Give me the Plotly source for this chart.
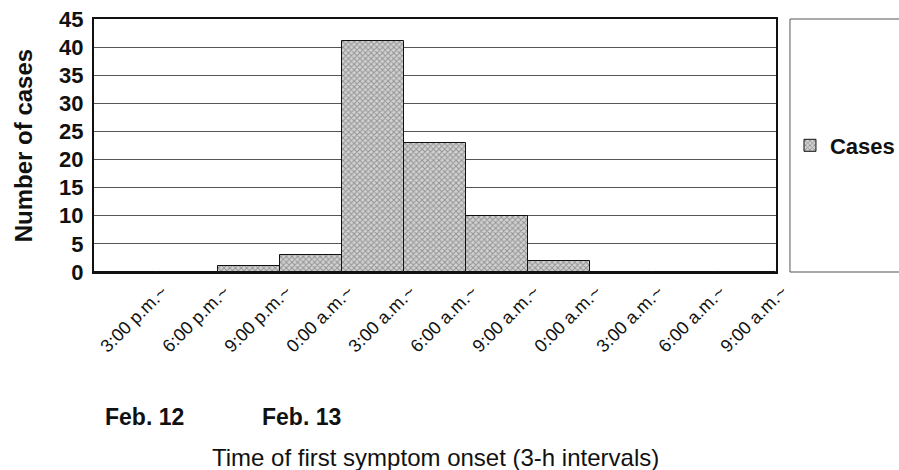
import plotly.graph_objects as go

categories = ["3:00 p.m.~", "6:00 p.m.~", "9:00 p.m.~", "0:00 a.m.~", "3:00 a.m.~",
              "6:00 a.m.~", "9:00 a.m.~", "0:00 a.m.~", "3:00 a.m.~", "6:00 a.m.~", "9:00 a.m.~"]
cases = [0, 0, 1, 3, 41, 23, 10, 2, 0, 0, 0]
y_ticks = [0, 5, 10, 15, 20, 25, 30, 35, 40, 45]
series_name = "Cases"
date_labels = ["Feb. 12", "Feb. 13"]
x_title = "Time of first symptom onset (3-h intervals)"
y_title = "Number of cases"

FONT = "Liberation Sans, Arial, Helvetica, sans-serif"
positions = list(range(len(categories)))

fig = go.Figure()
fig.add_trace(go.Bar(
    x=positions, y=cases, name=series_name, width=1,
    marker=dict(
        color="#c0c0c0",
        line=dict(color="#111", width=1),
        pattern=dict(shape="x", fgcolor="#555555", bgcolor="#d2d2d2", size=4, solidity=0.45),
    ),
    showlegend=True,
))

fig.update_layout(
    width=899, height=470,
    margin=dict(l=94, r=123, t=19, b=198, autoexpand=False),
    paper_bgcolor="white", plot_bgcolor="white",
    font=dict(family=FONT, color="#111"),
    bargap=0,
    showlegend=True,
    legend=dict(x=1.0205, xanchor="left", y=0.5, yanchor="middle",
                font=dict(family=FONT, size=22, color="#111", weight="bold"),
                bgcolor="rgba(0,0,0,0)", borderwidth=0),
    xaxis=dict(
        range=[-0.5, len(categories) - 0.5],
        tickmode="array", tickvals=positions, ticktext=categories,
        tickangle=-45, ticks="", ticklabelshift=37, automargin=False,
        tickfont=dict(family=FONT, size=18, color="#111"),
        showgrid=False, showline=True, linecolor="#111", linewidth=2, mirror=True,
        zeroline=False, fixedrange=True,
    ),
    yaxis=dict(
        range=[0, 45], tickmode="array", tickvals=y_ticks, automargin=False,
        ticks="", tickfont=dict(family=FONT, size=22, color="#111", weight="bold"),
        ticklabeloverflow="allow",
        showgrid=True, gridcolor="#555", gridwidth=1,
        showline=True, linecolor="#111", linewidth=2, mirror=True,
        zeroline=False, ticklabelstandoff=4, fixedrange=True,
    ),
    shapes=[dict(type="rect", xref="paper", yref="paper", x0=1.0205, x1=1.25, y0=0, y1=1,
                 line=dict(color="#555", width=1), fillcolor="rgba(0,0,0,0)")],
    annotations=[
        dict(text=y_title, xref="paper", yref="paper", x=-0.103, y=0.5, textangle=-90,
             showarrow=False, xanchor="center", yanchor="middle",
             font=dict(family=FONT, size=24, color="#111", weight="bold")),
        dict(text=date_labels[0], xref="paper", yref="paper", x=0.013, y=-0.575,
             showarrow=False, xanchor="left", yanchor="middle",
             font=dict(family=FONT, size=23, color="#111", weight="bold")),
        dict(text=date_labels[1], xref="paper", yref="paper", x=0.243, y=-0.575,
             showarrow=False, xanchor="left", yanchor="middle",
             font=dict(family=FONT, size=23, color="#111", weight="bold")),
        dict(text=x_title, xref="paper", yref="paper", x=0.5, y=-0.735,
             showarrow=False, xanchor="center", yanchor="middle",
             font=dict(family=FONT, size=24, color="#111")),
    ],
)

fig.write_html("out.html", config={"displayModeBar": False},
               post_script="document.body.style.margin='0';")
